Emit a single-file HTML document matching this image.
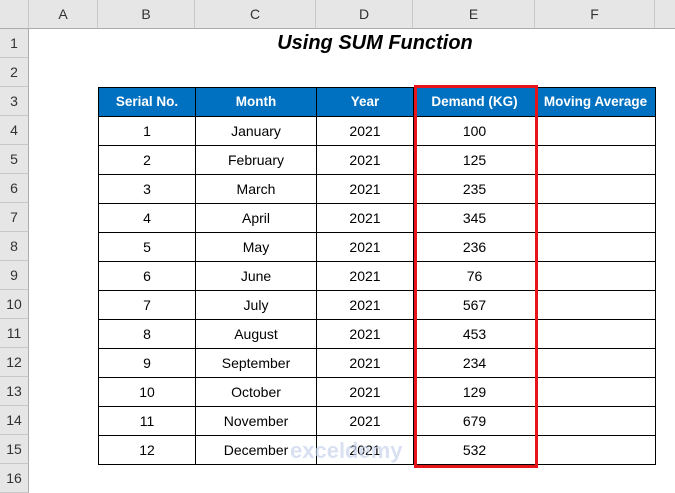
<!DOCTYPE html>
<html><head><style>
body{margin:0;width:675px;height:487px;overflow:hidden;background:#fff;font-family:"Liberation Sans",Arial,sans-serif;position:relative}
.a{position:absolute;box-sizing:border-box}
.ch{top:0;height:29px;background:#e6e6e6;border-right:1px solid #c8c8c8;border-bottom:1px solid #ababab;text-align:center;line-height:29px;font-size:14px;color:#333}
.rh{left:0;width:29px;height:29px;background:#e6e6e6;border-bottom:1px solid #c8c8c8;border-right:1px solid #ababab;text-align:center;line-height:29px;font-size:14px;color:#333}
.g{position:absolute;left:98px;top:87px;display:grid;grid-template-columns:96px 120px 96px 121px 119px;grid-auto-rows:28px;gap:1px;padding:1px;background:#000;font-size:14px}
.g div{background:#fff;text-align:center;line-height:28px;white-space:nowrap;overflow:hidden}
.g .h{background:#0070c0;color:#fff;font-weight:bold;font-size:13.5px}
</style></head><body>
<div class="a ch" style="left:0;width:29px"></div>
<div class="a ch" style="left:29px;width:69px">A</div>
<div class="a ch" style="left:98px;width:97px">B</div>
<div class="a ch" style="left:195px;width:121px">C</div>
<div class="a ch" style="left:316px;width:97px">D</div>
<div class="a ch" style="left:413px;width:122px">E</div>
<div class="a ch" style="left:535px;width:120px">F</div>
<div class="a ch" style="left:655px;width:30px"></div>
<div class="a rh" style="top:29px">1</div>
<div class="a rh" style="top:58px">2</div>
<div class="a rh" style="top:87px">3</div>
<div class="a rh" style="top:116px">4</div>
<div class="a rh" style="top:145px">5</div>
<div class="a rh" style="top:174px">6</div>
<div class="a rh" style="top:203px">7</div>
<div class="a rh" style="top:232px">8</div>
<div class="a rh" style="top:261px">9</div>
<div class="a rh" style="top:290px">10</div>
<div class="a rh" style="top:319px">11</div>
<div class="a rh" style="top:348px">12</div>
<div class="a rh" style="top:377px">13</div>
<div class="a rh" style="top:406px">14</div>
<div class="a rh" style="top:435px">15</div>
<div class="a rh" style="top:464px">16</div>
<div class="a" style="left:195px;width:360px;top:29px;height:29px;line-height:29px;text-align:center;font-size:20px;font-weight:bold;font-style:italic">Using SUM Function</div>
<div class="g">
<div class="h">Serial No.</div><div class="h">Month</div><div class="h">Year</div><div class="h">Demand (KG)</div><div class="h">Moving Average</div>
<div>1</div><div>January</div><div>2021</div><div>100</div><div></div>
<div>2</div><div>February</div><div>2021</div><div>125</div><div></div>
<div>3</div><div>March</div><div>2021</div><div>235</div><div></div>
<div>4</div><div>April</div><div>2021</div><div>345</div><div></div>
<div>5</div><div>May</div><div>2021</div><div>236</div><div></div>
<div>6</div><div>June</div><div>2021</div><div>76</div><div></div>
<div>7</div><div>July</div><div>2021</div><div>567</div><div></div>
<div>8</div><div>August</div><div>2021</div><div>453</div><div></div>
<div>9</div><div>September</div><div>2021</div><div>234</div><div></div>
<div>10</div><div>October</div><div>2021</div><div>129</div><div></div>
<div>11</div><div>November</div><div>2021</div><div>679</div><div></div>
<div>12</div><div>December</div><div>2021</div><div>532</div><div></div>
</div>
<div class="a" style="left:414px;top:85px;width:124px;height:383px;border:3px solid #e8141b"></div>
<div class="a" style="left:290px;top:438px;font-size:22px;font-weight:bold;color:#c8d4ec;opacity:.7">exceldemy</div>
</body></html>
